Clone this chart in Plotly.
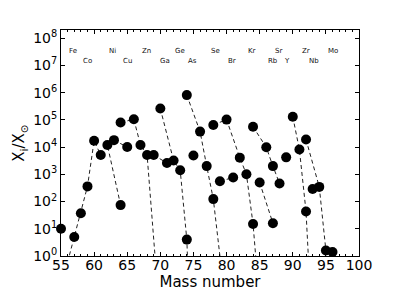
import plotly.graph_objects as go

# Isotope chains (mass number, X_i/X_sun); values below 1 lie off the chart
chain1_mass = [56, 57, 58, 59, 60, 61, 62, 64]
chain1_val = [0.6, 5, 37, 360, 1.7e4, 5100, 1.2e4, 74]
zn_mass = [64, 66, 67, 68, 70]
zn_val = [8e4, 1.05e5, 1.2e4, 5100, 0.0034]
ge_mass = [70, 72, 73, 74, 76]
ge_val = [2.6e5, 3200, 1400, 4, 1e-12]
se_mass = [74, 76, 77, 78, 80]
se_val = [8.1e5, 3.7e4, 2000, 123, 0.008]
kr_mass = [78, 80, 82, 83, 84, 86]
kr_val = [6.5e4, 1.02e5, 4100, 1000, 15, 2e-5]
sr_mass = [84, 86, 87, 88]
sr_val = [5.6e4, 9800, 2000, 460]
rb_mass = [85, 87]
rb_val = [500, 16]
zr_mass = [90, 91, 92, 94]
zr_val = [1.3e5, 8100, 43, 1.6e-8]
mo_mass = [92, 94, 95, 96]
mo_val = [1.9e4, 345, 1.6, 1.4]
cu_mass = [63, 65]
cu_val = [1.8e4, 1e4]
ga_mass = [69, 71]
ga_val = [5100, 2600]
br_mass = [79, 81]
br_val = [560, 760]
single_mass = [55, 75, 89, 93]
single_val = [10, 4900, 4200, 290]

# Element labels
elem_row1 = ["Fe", "Ni", "Zn", "Ge", "Se", "Kr", "Sr", "Zr", "Mo"]
elem_row1_x = [56.8, 62.8, 67.9, 72.9, 78.4, 83.9, 87.9, 92.0, 96.1]
elem_row2 = ["Co", "Cu", "Ga", "As", "Br", "Rb", "Y", "Nb"]
elem_row2_x = [59.0, 65.0, 70.7, 74.8, 80.8, 87.0, 89.2, 93.2]

xticks = [55, 60, 65, 70, 75, 80, 85, 90, 95, 100]
yexp = [0, 1, 2, 3, 4, 5, 6, 7, 8]

chains = [
    (chain1_mass, chain1_val), (zn_mass, zn_val), (ge_mass, ge_val),
    (se_mass, se_val), (kr_mass, kr_val), (sr_mass, sr_val),
    (rb_mass, rb_val), (zr_mass, zr_val), (mo_mass, mo_val),
    (cu_mass, cu_val), (ga_mass, ga_val), (br_mass, br_val),
]

fig = go.Figure()
for m, v in chains:
    fig.add_trace(go.Scatter(x=m, y=v, mode="lines",
                             line=dict(color="#222", width=1, dash="4px,3px"),
                             showlegend=False, hoverinfo="skip"))

pm, pv = [], []
for m, v in chains + [(single_mass, single_val)]:
    for a, b in zip(m, v):
        if b >= 0.9:
            pm.append(a)
            pv.append(b)
fig.add_trace(go.Scatter(x=pm, y=pv, mode="markers",
                         marker=dict(color="black", size=10),
                         cliponaxis=False, showlegend=False))

for names, xs, yp in [(elem_row1, elem_row1_x, 0.935), (elem_row2, elem_row2_x, 0.889)]:
    for n, x in zip(names, xs):
        fig.add_annotation(x=x, y=yp, xref="x", yref="paper", text=n,
                           showarrow=False, font=dict(size=7, color="#111",
                                                      family="DejaVu Sans"))

axis_common = dict(showline=True, linecolor="black", linewidth=1, mirror="allticks",
                   ticks="inside", ticklen=4, tickcolor="black", showgrid=False,
                   zeroline=False, tickfont=dict(size=14, color="black",
                                                 family="DejaVu Sans"))

fig.update_xaxes(range=[55, 100], tickvals=xticks, ticktext=[str(t) for t in xticks],
                 minor=dict(dtick=1, ticks="inside", ticklen=2, tickcolor="black"),
                 ticklabelstandoff=-4,
                 title=dict(text="Mass number", font=dict(size=15, color="black",
                                                           family="DejaVu Sans"),
                            standoff=0),
                 **axis_common)
fig.update_yaxes(type="log", range=[0, 8.3], tickvals=[10 ** e for e in yexp],
                 ticktext=["10<sup>%d</sup>" % e for e in yexp],
                 title=dict(text="X<sub>i</sub>/X<sub>⊙</sub>",
                            font=dict(size=15, color="black", family="DejaVu Sans"),
                            standoff=4),
                 **axis_common)

# the page adds an 8px body margin, so the figure is 8px smaller on each axis
fig.update_layout(width=391, height=293, margin=dict(l=53, r=40, t=22, b=45),
                  paper_bgcolor="white", plot_bgcolor="white",
                  font=dict(family="DejaVu Sans", color="black"))
fig.write_html("out.html")
